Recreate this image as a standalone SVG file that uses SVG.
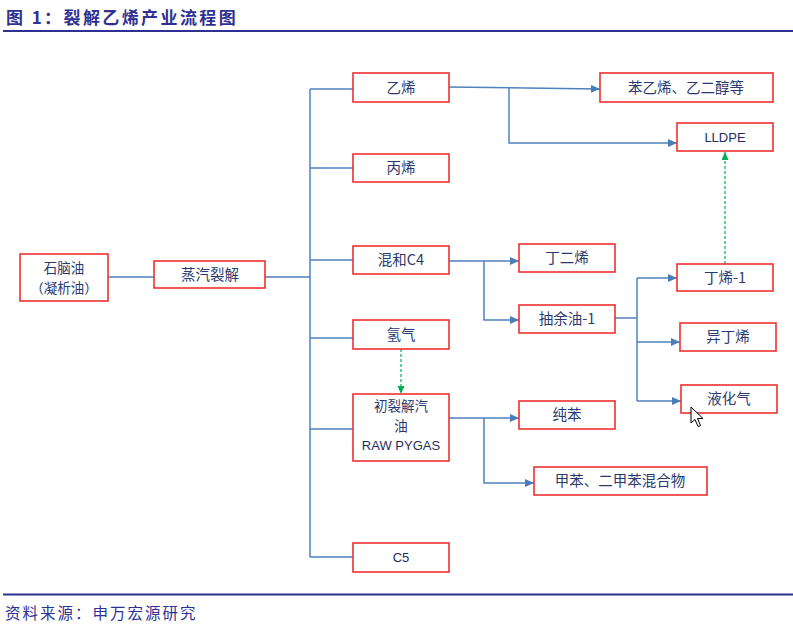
<svg xmlns="http://www.w3.org/2000/svg" width="793" height="629" viewBox="0 0 793 629">
<style>
.box{fill:#ffffff;stroke:#f03030;stroke-width:1.6}
.t{font-family:"Noto Sans CJK SC","Liberation Sans",sans-serif;font-size:14.5px;fill:#2a3a6e;text-anchor:middle}
.m{font-size:13.5px}
.l{font-family:"Liberation Sans","Noto Sans CJK SC",sans-serif;font-size:13px;fill:#1f2d5e;text-anchor:middle}
.c{fill:none;stroke:#4f81bd;stroke-width:1.5}
.g{fill:none;stroke:#00b050;stroke-width:1.2;stroke-dasharray:3 2}
</style>
<defs>
<marker id="ab" markerUnits="userSpaceOnUse" markerWidth="10" markerHeight="8" refX="9" refY="4" orient="auto"><path d="M0,0 L9,4 L0,8 z" fill="#4a7ebb"/></marker>
<marker id="ag" markerUnits="userSpaceOnUse" markerWidth="10" markerHeight="8" refX="8" refY="3.5" orient="auto"><path d="M0,0 L8,3.5 L0,7 z" fill="#00b050"/></marker>
</defs>
<rect width="793" height="629" fill="#ffffff"/>
<text x="6" y="24" font-family="Noto Sans CJK SC,sans-serif" font-size="17" font-weight="bold" fill="#2e3192" letter-spacing="2.4">图 1：裂解乙烯产业流程图</text>
<rect x="3" y="30" width="790" height="2" fill="#2e3192"/>
<rect x="3" y="593.5" width="790" height="2" fill="#2e3192"/>
<text x="5" y="619" font-family="Noto Sans CJK SC,sans-serif" font-size="15.5" fill="#2e3192" letter-spacing="2">资料来源：申万宏源研究</text>
<g id="connectors">
<path class="c" d="M108,277 H154"/>
<path class="c" d="M265,277 H310"/>
<path class="c" d="M310,89 V557"/>
<path class="c" d="M310,89 H353 M310,168 H353 M310,260 H353 M310,338 H353 M310,429 H353 M310,557 H353"/>
<path class="c" d="M449,87 L600,89" marker-end="url(#ab)"/>
<path class="c" d="M509,88 V143 H677" marker-end="url(#ab)"/>
<path class="c" d="M449,261 H519" marker-end="url(#ab)"/>
<path class="c" d="M484,261 V320 H519" marker-end="url(#ab)"/>
<path class="c" d="M615,318 H637"/>
<path class="c" d="M637,278 V401"/>
<path class="c" d="M637,278 H677" marker-end="url(#ab)"/>
<path class="c" d="M637,342 H680" marker-end="url(#ab)"/>
<path class="c" d="M637,401 H681" marker-end="url(#ab)"/>
<path class="c" d="M449,418 H519" marker-end="url(#ab)"/>
<path class="c" d="M484,418 V483 H534" marker-end="url(#ab)"/>
<path class="g" d="M401,349 V394" marker-end="url(#ag)"/>
<path class="g" d="M725,264 V152" marker-end="url(#ag)"/>
</g>
<g id="n-naphtha"><rect class="box" x="20" y="254" width="88" height="47"/><text class="t m" x="64" y="273">石脑油<tspan x="64" dy="19.6">（凝析油）</tspan></text></g>
<g id="n-cracking"><rect class="box" x="154" y="261" width="111" height="27"/><text class="t" x="210" y="280">蒸汽裂解</text></g>
<g id="n-ethylene"><rect class="box" x="353" y="73" width="96" height="29"/><text class="t" x="401" y="93">乙烯</text></g>
<g id="n-propylene"><rect class="box" x="353" y="154" width="96" height="28"/><text class="t" x="401" y="173">丙烯</text></g>
<g id="n-c4"><rect class="box" x="353" y="246" width="96" height="28"/><text class="t" x="401" y="265">混和C4</text></g>
<g id="n-h2"><rect class="box" x="353" y="320" width="96" height="29"/><text class="t" x="401" y="340">氢气</text></g>
<g id="n-pygas"><rect class="box" x="353" y="394" width="96" height="67"/><text class="t m" x="401" y="411">初裂解汽<tspan x="401" dy="19.6">油</tspan><tspan x="401" dy="19.4" font-family="Liberation Sans,sans-serif" font-size="13" fill="#1f2d5e">RAW PYGAS</tspan></text></g>
<g id="n-c5"><rect class="box" x="353" y="543" width="96" height="29"/><text class="l" x="401" y="562">C5</text></g>
<g id="n-styrene"><rect class="box" x="600" y="73" width="173" height="29"/><text class="t" x="686" y="93">苯乙烯、乙二醇等</text></g>
<g id="n-lldpe"><rect class="box" x="677" y="123" width="96" height="28"/><text class="l" x="725" y="142">LLDPE</text></g>
<g id="n-butadiene"><rect class="box" x="519" y="244" width="96" height="28"/><text class="t" x="567" y="263">丁二烯</text></g>
<g id="n-raffinate"><rect class="box" x="519" y="305" width="96" height="28"/><text class="t" x="567" y="324">抽余油-1</text></g>
<g id="n-butene1"><rect class="box" x="677" y="264" width="96" height="27"/><text class="t" x="725" y="283">丁烯-1</text></g>
<g id="n-isobutene"><rect class="box" x="680" y="323" width="96" height="28"/><text class="t" x="728" y="342">异丁烯</text></g>
<g id="n-lpg"><rect class="box" x="681" y="385" width="96" height="28"/><text class="t" x="729" y="404">液化气</text></g>
<g id="n-benzene"><rect class="box" x="519" y="401" width="96" height="28"/><text class="t" x="567" y="420">纯苯</text></g>
<g id="n-toluene"><rect class="box" x="534" y="467" width="173" height="28"/><text class="t" x="620" y="486">甲苯、二甲苯混合物</text></g>
<path d="M691,407 L691,423 L695,419.5 L698,426.5 L700.5,425.5 L697.5,418.5 L703,418.5 Z" fill="#ffffff" stroke="#000000" stroke-width="1"/>
</svg>
